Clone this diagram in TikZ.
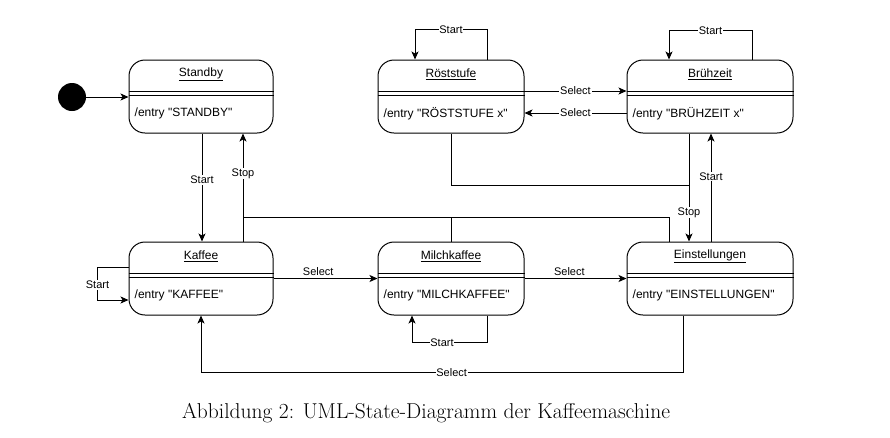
\documentclass[tikz,border=0pt]{standalone}
\usepackage{fontspec}
\usepackage{tikz}
\usetikzlibrary{arrows.meta}
\newfontfamily\umlfont[Ligatures=TeXOff]{Liberation Sans}

% one UML state: name, x, y, width, title, entry action
\newcommand{\umlstate}[6]{%
	\node[state, minimum width=#4pt] (#1) at (#2,#3) {};
	\node[statetitle] (#1-title) at ([yshift=-15pt]#1.north) {\underline{#5}};
	\draw[wire] ([yshift=-31.5pt]#1.north west) -- ([yshift=-31.5pt]#1.north east)
	            ([yshift=-35.5pt]#1.north west) -- ([yshift=-35.5pt]#1.north east);
	\node[entrytext] (#1-entry) at ([xshift=5pt,yshift=-54pt]#1.north west) {#6};
}

\tikzset{
	state/.style={draw, line width=1pt, rounded corners=16pt, inner sep=0pt, minimum height=73pt},
	statetitle/.style={font=\umlfont\fontsize{12}{14}\selectfont, inner sep=1pt},
	entrytext/.style={font=\umlfont\fontsize{12}{14}\selectfont, anchor=west, inner sep=1pt},
	wire/.style={line width=1pt},
	trans/.style={wire, -{Stealth[length=8pt, width=7pt, inset=2pt]}},
	lbl/.style={font=\umlfont\fontsize{11}{13}\selectfont, fill=white, inner sep=0.8pt},
	initial/.style={circle, fill=black, minimum size=28pt, inner sep=0pt},
}

\begin{document}
\begin{tikzpicture}[x=1pt, y=-1pt]
	\useasboundingbox (0,0) rectangle (890,437);
	
	% States
	\umlstate{standby}{201}{96.5}{144}{Standby}{/entry "STANDBY"}
	\umlstate{roest}{451}{96.5}{146}{Röststufe}{/entry "RÖSTSTUFE x"}
	\umlstate{brueh}{710}{96.5}{166}{Brühzeit}{/entry "BRÜHZEIT x"}
	\umlstate{kaffee}{201}{278.5}{144}{Kaffee}{/entry "KAFFEE"}
	\umlstate{milch}{451}{278.5}{146}{Milchkaffee}{/entry "MILCHKAFFEE"}
	\umlstate{einst}{710}{278.5}{166}{Einstellungen}{/entry "EINSTELLUNGEN"}
	
	% Initial state
	\node[initial] (init) at (72,97) {};
	\draw[trans] (init) -- (init -| standby.west);
	
	% Standby <-> Kaffee
	\draw[trans] ([xshift=1pt]standby.south) -- ([xshift=1pt]kaffee.north)
		node[lbl, pos=0.43] {Start};
	\draw[trans] ([xshift=42pt]kaffee.north) -- ([xshift=42pt]standby.south)
		node[lbl, pos=0.63] {Stop};
	
	% Stop from Milchkaffee and Einstellungen joins the Stop line
	\coordinate (stopjoin) at (243,217);
	\draw[wire] ([xshift=-41pt]einst.north) |- (stopjoin);
	\draw[wire] (milch.north) -- (milch.north |- stopjoin);
	
	% Stop from Röststufe and Brühzeit to Einstellungen
	\coordinate (stopjoin2) at (689,185);
	\draw[wire] (roest.south) |- (stopjoin2);
	\draw[trans] ([xshift=-21pt]brueh.south) -- ([xshift=-21pt]einst.north)
		node[lbl, pos=0.73] {Stop};
	\draw[trans] ([xshift=1pt]einst.north) -- ([xshift=1pt]brueh.south)
		node[lbl, pos=0.6] {Start};
	
	% Röststufe <-> Brühzeit
	\draw[trans] ([yshift=5.5pt]roest.east) -- ([yshift=5.5pt]brueh.west)
		node[lbl, midway] {Select};
	\draw[trans] ([yshift=-16.5pt]brueh.west) -- ([yshift=-16.5pt]roest.east)
		node[lbl, midway] {Select};
	
	% Self loops
	\draw[trans] ([xshift=36pt]roest.north) -- ++(0,-30) -| ([xshift=-36pt]roest.north)
		node[lbl, pos=0.25] {Start};
	\draw[trans] ([xshift=42pt]brueh.north) -- ++(0,-29) -| ([xshift=-41pt]brueh.north)
		node[lbl, pos=0.25] {Start};
	\draw[trans] ([yshift=11.5pt]kaffee.west) -- ++(-31,0) |- ([yshift=-21.5pt]kaffee.west)
		node[lbl, pos=0.27] {Start};
	\draw[trans] ([xshift=36pt]milch.south) -- ++(0,27) -| ([xshift=-39pt]milch.south)
		node[lbl, pos=0.3] {Start};
	
	% Select chain
	\draw[trans] (kaffee.east) -- (milch.west)
		node[lbl, pos=0.43, above=2pt, fill=none] {Select};
	\draw[trans] (milch.east) -- (einst.west)
		node[lbl, pos=0.44, above=2pt, fill=none] {Select};
	\draw[trans] ([xshift=-27pt]einst.south) -- ++(0,57) -| (kaffee.south)
		node[lbl, pos=0.24] {Select};
	
	% Caption
	\node[font=\fontsize{21.5}{24}\selectfont] (caption) at (426,413)
		{Abbildung 2: UML-State-Diagramm der Kaffeemaschine};
\end{tikzpicture}
\end{document}
